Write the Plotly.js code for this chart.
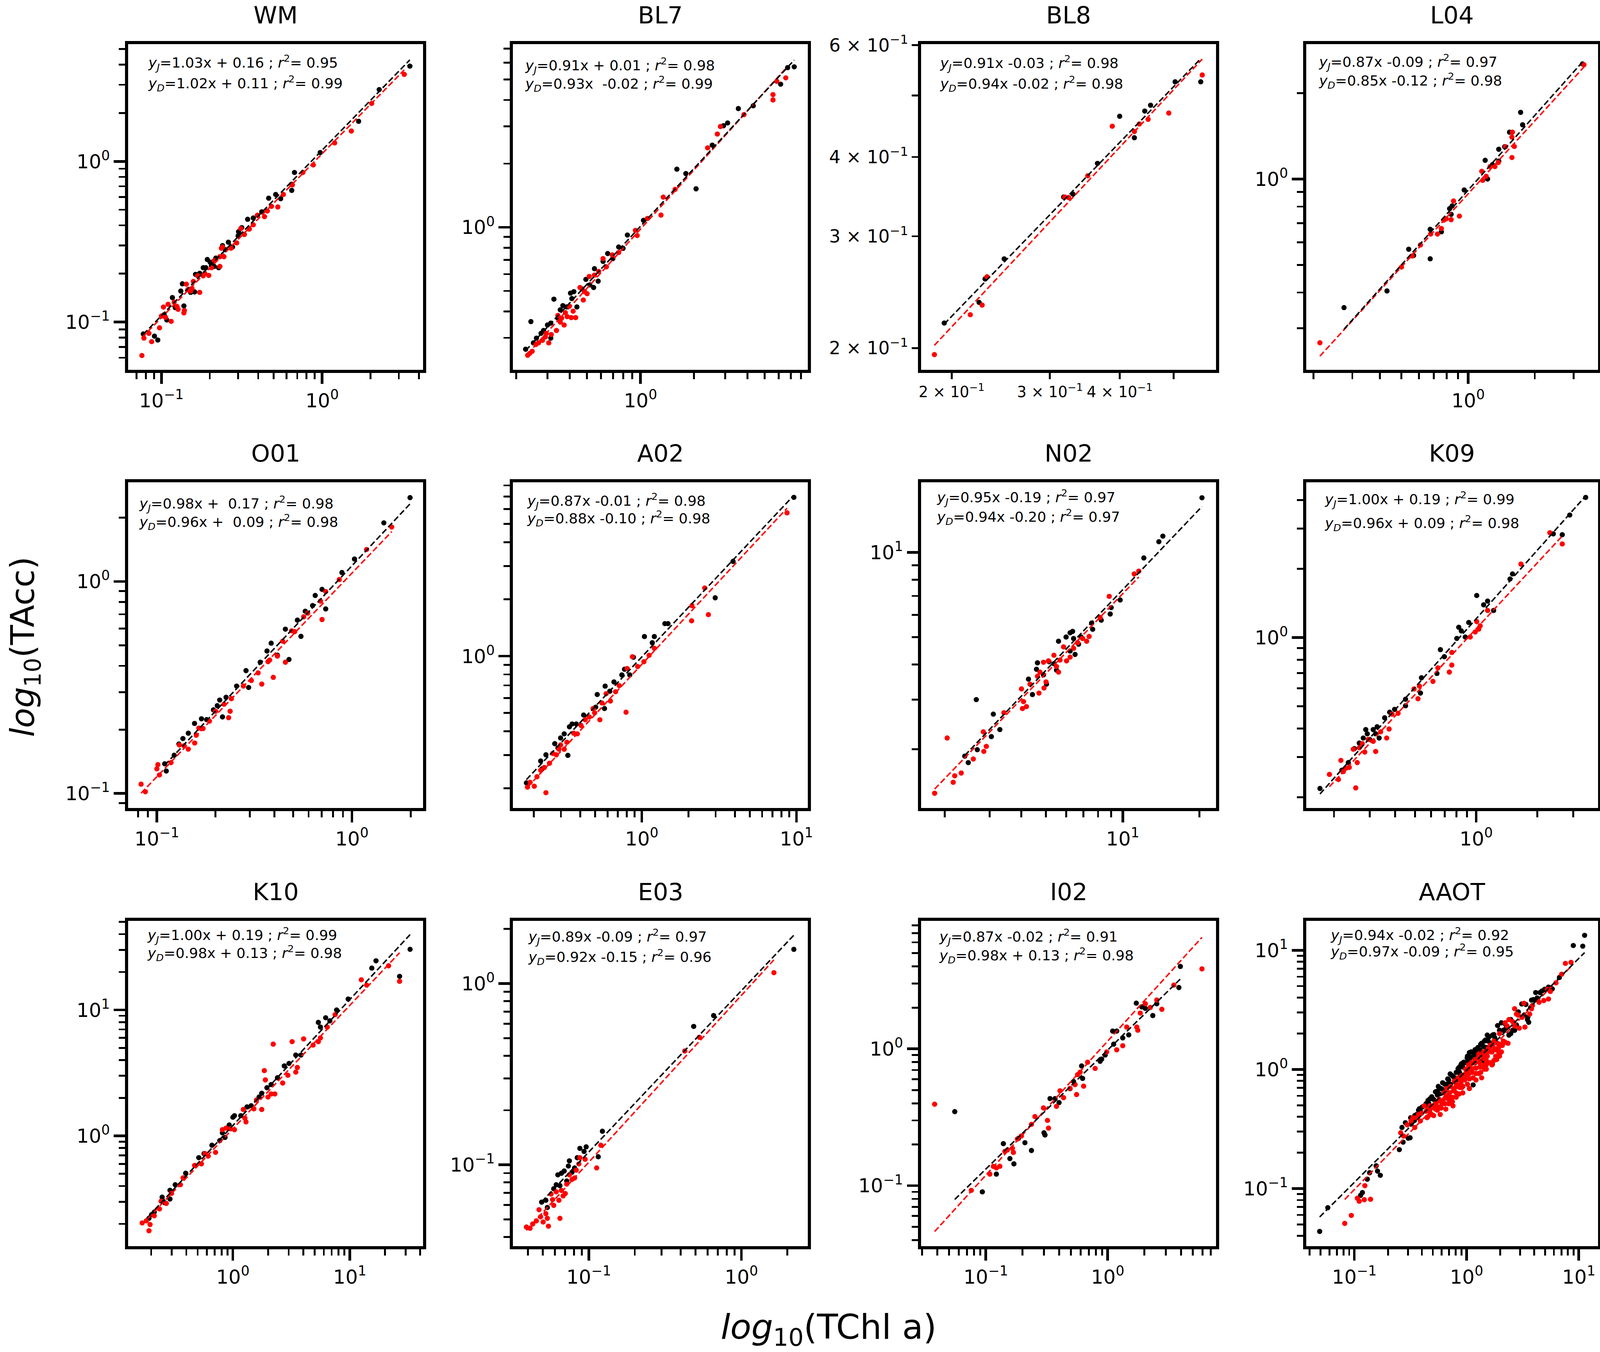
<!DOCTYPE html>
<html><head><meta charset="utf-8">
<script src="https://cdn.plot.ly/plotly-3.0.1.min.js"></script>
<style>html,body{margin:0;padding:0;background:#fff;overflow:hidden}</style>
</head><body><div id="chart"></div>
<script>
// ---------------- DATA ----------------
const panelNames = ['WM','BL7','BL8','L04','O01','A02','N02','K09','K10','E03','I02','AAOT'];

const WM_J_x = [0.0771,0.0905,0.0949,0.117,0.135,0.132,0.138,0.152,0.161,0.163,0.173,0.182,0.193,0.205,0.213,0.227,0.231,0.240,0.261,0.277,0.300,0.302,0.316,0.328,0.344,0.352,0.373,0.396,0.421,0.465,0.514,0.552,0.647,0.647,0.673,0.973,1.687,2.266,3.516,0.104,0.108,0.122,0.189,0.201,0.218,0.250];
const WM_J_y = [0.0843,0.0817,0.0773,0.142,0.173,0.156,0.126,0.153,0.154,0.198,0.201,0.218,0.245,0.227,0.222,0.218,0.255,0.299,0.314,0.293,0.344,0.365,0.387,0.351,0.436,0.379,0.444,0.462,0.485,0.590,0.622,0.586,0.660,0.720,0.853,1.135,1.775,2.798,3.915,0.111,0.103,0.123,0.218,0.236,0.250,0.282];
const WM_D_x = [0.0756,0.0778,0.0836,0.0869,0.0973,0.100,0.103,0.106,0.110,0.115,0.120,0.125,0.127,0.138,0.139,0.143,0.146,0.152,0.155,0.173,0.158,0.168,0.182,0.186,0.197,0.205,0.213,0.231,0.236,0.245,0.271,0.294,0.312,0.328,0.352,0.373,0.396,0.438,0.456,0.484,0.530,0.574,0.653,0.759,0.881,1.197,1.520,2.034,3.245,0.231,0.240];
const WM_D_y = [0.0619,0.0795,0.0851,0.0755,0.0920,0.109,0.124,0.107,0.129,0.101,0.133,0.125,0.120,0.114,0.118,0.172,0.159,0.156,0.162,0.153,0.179,0.194,0.194,0.201,0.195,0.218,0.241,0.222,0.288,0.255,0.288,0.311,0.382,0.351,0.379,0.403,0.462,0.453,0.491,0.525,0.520,0.622,0.714,0.853,0.950,1.303,1.545,2.294,3.477,0.255,0.293];

const BL7_J_x = [0.226,0.242,0.250,0.260,0.276,0.285,0.300,0.313,0.313,0.326,0.343,0.354,0.366,0.385,0.404,0.411,0.422,0.439,0.469,0.493,0.519,0.551,0.545,0.578,0.616,0.654,0.699,0.754,0.798,0.844,1.040,1.602,1.799,2.054,2.532,2.930,3.090,3.551,4.305,6.14,6.72,7.32];
const BL7_J_y = [0.265,0.358,0.284,0.299,0.315,0.325,0.345,0.352,0.299,0.457,0.372,0.407,0.426,0.420,0.488,0.460,0.496,0.420,0.511,0.567,0.534,0.637,0.519,0.556,0.690,0.751,0.711,0.807,0.795,0.919,1.078,1.883,1.795,1.520,2.447,3.021,3.114,3.643,3.755,4.75,5.69,5.74];
const BL7_D_x = [0.232,0.238,0.246,0.258,0.267,0.281,0.292,0.295,0.305,0.315,0.337,0.343,0.354,0.360,0.372,0.378,0.387,0.398,0.408,0.418,0.432,0.457,0.477,0.485,0.501,0.515,0.551,0.582,0.616,0.643,0.694,0.754,0.936,0.958,1.094,1.304,1.343,1.565,2.385,2.705,2.816,3.82,5.56,5.56,5.84,6.56];
const BL7_D_y = [0.248,0.253,0.259,0.279,0.284,0.292,0.303,0.315,0.284,0.311,0.325,0.383,0.356,0.372,0.345,0.395,0.378,0.423,0.374,0.401,0.374,0.519,0.453,0.496,0.485,0.585,0.594,0.618,0.711,0.650,0.740,0.760,0.967,0.914,1.101,1.142,1.389,1.511,2.375,2.761,2.995,3.41,4.24,4.00,4.90,5.09];

const BL8_J_x = [0.194,0.224,0.2296,0.2484,0.3175,0.3299,0.365,0.400,0.425,0.4436,0.4544,0.5028,0.5588];
const BL8_J_y = [0.219,0.236,0.257,0.2764,0.3459,0.3495,0.3908,0.4636,0.4289,0.4725,0.4826,0.5254,0.5254];
const BL8_D_x = [0.1863,0.2160,0.2268,0.2314,0.3189,0.3239,0.3507,0.388,0.425,0.4338,0.4498,0.4898,0.5623];
const BL8_D_y = [0.1953,0.2257,0.2337,0.259,0.3459,0.3453,0.3736,0.4472,0.4387,0.4508,0.4585,0.4691,0.5385];

const L04_J_x = [0.275,0.430,0.539,0.567,0.674,0.674,0.757,0.825,0.838,0.846,0.960,1.194,1.224,1.288,1.375,1.375,1.538,1.726,1.762,1.462,3.285];
const L04_J_y = [0.354,0.405,0.567,0.539,0.525,0.666,0.653,0.787,0.752,0.804,0.915,1.163,1.000,1.122,1.271,1.155,1.459,1.712,1.549,1.297,2.532];
const L04_D_x = [0.214,0.500,0.559,0.609,0.677,0.727,0.757,0.776,0.796,0.838,0.859,0.913,1.152,1.164,1.206,1.256,1.321,1.368,1.476,1.577,1.585,1.577,1.617,3.336];
const L04_D_y = [0.2665,0.491,0.537,0.587,0.641,0.641,0.670,0.717,0.725,0.720,0.837,0.741,1.064,0.989,1.022,1.105,1.105,1.142,1.297,1.402,1.459,1.189,1.30,2.515];

const O01_J_x = [0.1097,0.1117,0.1227,0.1297,0.136,0.145,0.156,0.1693,0.180,0.195,0.204,0.210,0.217,0.2264,0.2564,0.2865,0.2954,0.3388,0.367,0.3855,0.415,0.456,0.4757,0.5254,0.548,0.5765,0.6286,0.6486,0.703,0.734,0.889,1.031,1.458,1.987];
const O01_J_y = [0.138,0.1276,0.1514,0.171,0.1816,0.1924,0.214,0.225,0.223,0.248,0.2595,0.2758,0.2297,0.2843,0.321,0.3796,0.3162,0.416,0.470,0.5117,0.449,0.5957,0.4286,0.657,0.551,0.724,0.7695,0.859,0.918,0.742,1.102,1.276,1.890,2.486];
const O01_D_x = [0.0830,0.0873,0.100,0.1012,0.1031,0.1182,0.1305,0.138,0.1449,0.1563,0.1592,0.1641,0.1725,0.186,0.200,0.2208,0.2333,0.2375,0.241,0.2777,0.305,0.3304,0.345,0.3715,0.3786,0.3954,0.415,0.4416,0.456,0.491,0.509,0.5662,0.594,0.703,0.690,0.734,0.862,1.189,1.600];
const O01_D_y = [0.1106,0.1019,0.1307,0.1368,0.1223,0.1398,0.1694,0.1678,0.1618,0.173,0.1884,0.2033,0.2025,0.2195,0.2442,0.2635,0.2277,0.2442,0.280,0.3212,0.341,0.3707,0.328,0.4186,0.426,0.353,0.4446,0.5227,0.416,0.585,0.580,0.681,0.709,0.661,0.808,0.896,1.021,1.415,1.806];

const A02_J_x = [0.1795,0.222,0.227,0.240,0.2737,0.287,0.2985,0.315,0.3326,0.3406,0.354,0.377,0.4207,0.5035,0.5152,0.5794,0.621,0.661,0.743,0.773,0.836,0.883,1.040,1.169,1.205,1.410,1.477,2.983,3.89,9.62,0.574];
const A02_J_y = [0.2135,0.2786,0.2535,0.3006,0.3443,0.327,0.369,0.388,0.2985,0.4227,0.4375,0.4375,0.488,0.537,0.6266,0.694,0.652,0.730,0.7955,0.852,0.7955,0.986,1.270,1.178,1.270,1.486,1.486,2.035,3.173,6.92,0.528];
const A02_D_x = [0.1824,0.1897,0.2018,0.210,0.222,0.240,0.2344,0.253,0.2654,0.280,0.291,0.2985,0.315,0.3275,0.3625,0.383,0.4045,0.4305,0.458,0.484,0.4955,0.5357,0.5525,0.588,0.6266,0.677,0.7145,0.791,0.804,0.869,0.940,1.032,1.115,1.205,2.099,2.11,2.552,2.695,8.69];
const A02_D_y = [0.2028,0.215,0.205,0.230,0.249,0.1894,0.2576,0.2711,0.3055,0.3006,0.3217,0.3388,0.3217,0.350,0.391,0.388,0.430,0.4605,0.4766,0.528,0.5016,0.4605,0.565,0.6326,0.579,0.648,0.6984,0.505,0.860,0.993,0.881,0.934,1.010,1.100,1.538,1.849,2.294,1.658,5.73];

const N02_J_x = [2.399,2.476,2.662,2.686,3.05,3.105,3.294,4.266,4.422,4.628,4.586,4.887,5.022,5.136,5.37,5.495,5.597,5.993,6.214,6.357,6.413,6.50,6.214,6.71,6.866,7.55,7.62,8.232,8.93,9.01,9.77,12.1,13.86,14.37,20.46];
const N02_J_y = [1.888,1.791,2.999,1.991,2.216,2.663,2.347,3.546,3.126,4.052,3.843,3.671,3.403,4.089,4.023,3.817,4.834,5.004,5.179,5.239,4.943,4.340,4.461,4.72,5.004,5.61,5.33,5.742,6.04,6.365,6.773,9.55,10.91,11.42,15.63];
const N02_D_x = [1.827,2.046,2.161,2.190,2.323,2.591,2.837,2.849,2.915,3.416,4.004,4.04,4.08,4.188,4.325,4.628,4.69,4.732,4.887,4.909,4.999,5.112,5.37,5.495,5.597,5.675,5.857,6.018,6.214,6.413,6.65,6.96,7.216,7.38,8.15,8.85,11.09,11.56];
const N02_D_y = [1.394,2.191,1.525,1.608,1.645,1.845,2.304,1.963,2.046,2.694,3.273,2.787,2.95,2.832,3.403,3.629,3.162,3.756,4.07,3.297,3.466,4.117,4.31,3.932,3.756,4.145,4.616,4.117,4.243,4.563,4.779,4.943,4.834,5.026,5.87,6.977,8.38,8.577];

const K09_J_x = [0.1707,0.2188,0.2353,0.2518,0.2663,0.2786,0.2866,0.2915,0.2997,0.3119,0.3206,0.326,0.3335,0.3549,0.3755,0.3972,0.4496,0.4496,0.5323,0.5383,0.6412,0.6669,0.6975,0.8028,0.821,0.8448,0.8836,0.919,1.006,1.088,1.138,1.218,1.466,1.508,2.393,2.648,2.883,3.451];
const K09_J_y = [0.2183,0.2624,0.2833,0.3263,0.3451,0.363,0.3954,0.379,0.358,0.3954,0.379,0.4067,0.363,0.4453,0.471,0.4847,0.5028,0.537,0.5714,0.667,0.6966,0.8855,0.8249,0.9915,1.11,1.070,1.006,1.165,1.529,1.392,1.445,1.315,1.806,1.901,2.848,2.824,3.443,4.113];
const K09_D_x = [0.190,0.2103,0.2163,0.2224,0.2288,0.2379,0.2489,0.2559,0.2603,0.2663,0.2755,0.2834,0.2946,0.3119,0.3206,0.3392,0.3631,0.3733,0.3862,0.4131,0.495,0.5176,0.5263,0.6129,0.6483,0.738,0.7586,0.7586,0.9347,0.9886,1.006,1.029,1.046,1.138,1.660,2.301,2.648];
const K09_D_y = [0.2515,0.2389,0.2897,0.2587,0.2677,0.270,0.3244,0.2196,0.2833,0.329,0.3432,0.3152,0.358,0.3511,0.317,0.3866,0.363,0.3977,0.462,0.466,0.5958,0.5398,0.6129,0.643,0.7367,0.706,0.7578,0.861,1.006,1.058,1.175,1.089,1.126,1.315,2.099,2.881,2.572];

const K10_J_x = [0.1917,0.2018,0.2126,0.2483,0.2612,0.2897,0.2897,0.3212,0.3948,0.511,0.5668,0.662,0.7727,0.8135,0.8565,0.930,1.0,1.032,1.168,1.321,1.435,1.676,1.765,1.956,2.125,2.405,2.752,3.02,3.452,3.828,5.383,5.61,6.22,6.755,7.72,9.69,15.43,16.76,26.67,32.8];
const K10_J_y = [0.2217,0.2373,0.2483,0.3263,0.2946,0.3152,0.370,0.4096,0.5055,0.6717,0.7233,0.8433,0.918,1.058,0.972,1.22,1.406,1.447,1.447,1.697,1.736,2.035,2.179,2.414,2.556,2.895,3.594,3.76,4.385,4.385,7.963,7.31,8.67,8.196,10.0,12.2,21.5,24.55,18.48,30.3];
const K10_D_x = [0.1676,0.182,0.1917,0.1957,0.2126,0.2357,0.2432,0.2695,0.2987,0.356,0.375,0.4707,0.5383,0.5785,0.6155,0.711,0.8135,0.8743,0.95,1.032,1.229,1.268,1.294,1.512,1.591,1.765,1.858,1.897,1.997,2.125,2.285,2.214,2.667,2.955,3.212,3.452,3.561,4.03,4.855,5.383,5.61,6.415,7.49,12.55,13.92,21.47,26.67];
const K10_D_y = [0.2035,0.2118,0.1766,0.1978,0.232,0.263,0.303,0.291,0.3494,0.4096,0.4642,0.5825,0.5995,0.7233,0.691,0.7396,1.12,1.153,1.14,1.12,1.621,1.383,1.292,1.640,1.923,1.621,3.30,2.783,2.035,2.154,2.154,5.35,2.63,3.03,5.6,3.208,3.493,5.89,5.26,5.6,6.0,7.31,9.18,17.36,15.76,22.42,16.87];

const E03_J_x = [0.0491,0.0523,0.0535,0.0589,0.0612,0.0627,0.0647,0.0662,0.069,0.0717,0.0735,0.0746,0.0776,0.0807,0.0840,0.0874,0.0931,0.0961,0.1153,0.1228,0.4867,0.6577,2.206];
const E03_J_y = [0.0623,0.0638,0.0582,0.0738,0.0777,0.0881,0.0768,0.0899,0.0925,0.0814,0.0985,0.1052,0.0910,0.0962,0.1095,0.1233,0.1186,0.1257,0.1109,0.1532,0.580,0.6657,1.544];
const E03_D_x = [0.0390,0.0412,0.0429,0.0453,0.0472,0.0483,0.0502,0.0523,0.0535,0.0544,0.0566,0.0579,0.0589,0.0612,0.0637,0.0647,0.0662,0.0679,0.0701,0.0717,0.0746,0.0776,0.0807,0.0827,0.0861,0.0874,0.0946,0.1126,0.1199,0.4256,0.531,1.633];
const E03_D_y = [0.0454,0.0447,0.0472,0.0491,0.0566,0.0517,0.0484,0.0538,0.0507,0.0459,0.0690,0.0643,0.0598,0.0710,0.0638,0.0507,0.0723,0.0674,0.0695,0.0783,0.0881,0.0831,0.0847,0.0935,0.1012,0.1095,0.1074,0.0962,0.1283,0.4246,0.505,1.148];

const I02_J_x = [0.0556,0.0936,0.122,0.1393,0.1576,0.170,0.1852,0.2094,0.2368,0.3001,0.3059,0.3364,0.3698,0.399,0.491,0.5248,0.611,0.6226,0.8675,0.8925,0.9537,1.099,1.186,1.12,1.329,1.489,1.717,1.905,2.036,2.345,2.529,3.84,3.95];
const I02_J_y = [0.3475,0.0901,0.1214,0.2027,0.1577,0.1443,0.2216,0.206,0.1807,0.2434,0.2347,0.4329,0.4329,0.4045,0.5117,0.577,0.75,0.608,0.811,0.8414,0.9006,1.348,1.348,1.082,1.201,1.265,2.158,2.027,1.975,1.75,2.136,2.804,4.0];
const I02_D_x = [0.038,0.076,0.1079,0.1153,0.122,0.1303,0.1433,0.1503,0.1652,0.1684,0.1816,0.196,0.2368,0.253,0.2973,0.3207,0.3269,0.3802,0.4064,0.4345,0.491,0.540,0.5555,0.5666,0.594,0.6346,0.6844,0.789,0.981,1.186,1.329,1.434,1.733,1.766,1.851,2.036,2.237,2.529,2.783,3.493,5.94];
const I02_D_y = [0.394,0.0924,0.1214,0.1383,0.1348,0.1385,0.1778,0.1825,0.1873,0.175,0.2193,0.231,0.2805,0.3195,0.370,0.300,0.2633,0.3798,0.4933,0.4397,0.5144,0.5478,0.4634,0.6477,0.675,0.5337,0.7985,0.719,0.949,0.984,1.054,1.443,1.443,1.368,1.826,2.136,2.006,2.274,1.944,2.924,3.838];

const AAOT_J_x = [0.0491,0.058,0.1136,0.118,0.1305,0.1368,0.1565,0.1609,0.1704,0.2518,0.272,0.2658,0.285,0.302,0.3138,0.3175,0.3429,0.3806,0.4358,0.471,0.5284,0.5935,0.612,0.6797,0.7145,0.763,0.8404,0.901,1.012,1.06,1.145,1.336,1.472,1.53,1.704,1.698,1.891,2.044,2.385,2.578,3.102,3.579,3.483,3.94,4.13,4.51,4.97,5.8,6.72,8.94,10.85,11.27,
  0.3733,0.4034,0.4529,0.4894,0.5495,0.5601,0.6412,0.6929,0.7339,0.8086,0.8568,0.8906,0.9437,1.019,1.102,1.19,1.261,1.362,1.443,1.590,1.785,2.124,2.25,2.479,2.784,3.25,3.72,4.258,4.69,5.37,0.981,1.102,1.213,1.389,1.5,1.652,0.7203,0.8086,0.8735,0.3199,0.3592,0.5495,0.6412,
  0.3456,0.388,0.4275,0.4618,0.5084,0.571,0.6169,0.6664,0.7778,0.8568,0.9256,1.06,1.167,1.31,1.416,1.56,1.751,1.966,2.208,2.479,2.893,3.377,3.793,1.06,1.19,1.389,1.685,2.68,3.51];
const AAOT_J_y = [0.0436,0.069,0.0875,0.0924,0.1197,0.1356,0.155,0.140,0.129,0.2119,0.245,0.3256,0.3568,0.2643,0.2666,0.3928,0.372,0.468,0.5152,0.565,0.648,0.690,0.772,0.832,0.916,0.868,1.013,1.115,1.247,1.385,0.7405,1.622,1.764,1.941,1.941,1.10,2.332,2.462,1.941,2.128,3.54,2.483,2.62,3.85,4.415,4.415,4.70,4.74,5.91,10.96,10.82,13.34,
  0.4546,0.4839,0.5483,0.5888,0.6561,0.7192,0.7499,0.815,0.8935,0.943,1.038,1.091,1.148,1.29,1.402,1.462,1.524,1.657,1.727,1.877,1.839,2.128,2.218,1.998,2.362,2.849,3.297,3.977,4.547,4.90,1.138,1.263,1.373,1.402,1.524,1.657,0.7499,0.815,0.924,0.3467,0.418,0.6087,0.6617,
  0.4096,0.4453,0.4941,0.5152,0.56,0.6216,0.6756,0.7499,0.85,0.963,1.047,1.187,1.317,1.462,1.556,1.727,1.958,2.128,2.411,2.62,3.033,3.51,3.815,1.004,1.138,1.187,1.402,2.128,2.733];
const AAOT_D_x = [0.0821,0.0940,0.1064,0.1105,0.1227,0.1394,0.1241,0.2588,0.2742,0.2961,0.3456,0.3325,0.3733,0.388,0.4195,0.4443,0.471,0.5084,0.5495,0.5822,0.605,0.6412,0.6536,0.6929,0.7484,0.7571,0.778,0.8086,0.8568,0.8735,0.9256,0.962,1.0,1.019,1.06,1.08,1.123,1.167,1.213,1.261,1.31,1.336,1.389,1.443,1.5,1.53,1.621,1.685,1.751,1.82,1.855,1.929,1.966,2.044,2.208,2.34,2.208,2.385,2.68,2.784,2.68,2.95,3.312,3.25,3.65,3.867,4.875,5.37,5.266,7.6,8.53,
  0.471,0.5284,0.571,0.629,0.6664,0.7203,0.778,0.8404,0.908,0.981,1.039,1.102,1.19,1.285,1.416,1.56,1.685,1.82,1.966,1.891,2.124,0.4529,0.5284,0.5935,0.6929,0.8086,0.9256,1.06,1.213,1.362,1.5,1.685,1.966,
  0.320,0.359,0.3958,0.4358,0.4799,0.5186,0.5601,0.6050,0.6536,0.7063,0.7631,0.8244,0.8906,0.962,1.039,1.123,1.213,1.31,1.416,1.53,1.652,1.785,1.929,2.084,0.7484,0.8086,0.908,1.019,1.145,1.285,1.443,1.621,1.82,2.044,1.751,1.5,1.336,1.102,0.981,0.8735,0.6929,0.6412,0.5495,0.4894,0.4529,3.126,3.793,4.426,2.578,2.893,2.295,5.58,6.266,7.036];
const AAOT_D_y = [0.0509,0.0594,0.0829,0.0782,0.0805,0.0812,0.1056,0.2934,0.2756,0.3423,0.3256,0.3928,0.418,0.369,0.4941,0.3928,0.4359,0.4096,0.537,0.418,0.5152,0.5718,0.4642,0.6087,0.537,0.4941,0.690,0.7499,0.6216,0.7045,0.7192,0.815,0.905,0.983,0.832,1.091,1.004,1.138,0.924,1.237,1.047,0.943,1.29,1.091,1.187,1.402,1.589,1.402,1.727,1.29,1.211,1.402,1.998,1.622,1.691,1.657,2.462,2.62,3.228,2.91,2.313,2.218,2.265,3.584,2.91,3.437,3.784,3.896,4.70,7.756,7.915,
  0.4941,0.5152,0.56,0.6348,0.690,0.7192,0.7984,0.85,0.886,1.004,1.091,1.138,1.211,1.345,1.402,1.492,1.589,1.462,1.345,1.657,1.727,0.4642,0.4642,0.474,0.5152,0.5839,0.6348,0.690,0.815,0.85,1.004,1.091,1.29,
  0.369,0.393,0.4270,0.4453,0.474,0.4941,0.4839,0.5373,0.5839,0.6348,0.6617,0.7192,0.7657,0.85,0.905,0.943,1.025,1.138,1.237,1.29,1.402,1.492,1.524,1.589,0.5839,0.6348,0.7045,0.7499,0.85,0.924,1.004,1.138,1.237,1.402,1.187,1.091,1.047,1.004,0.924,0.815,0.56,0.5152,0.4546,0.418,0.401,2.733,3.228,3.66,2.514,2.849,2.313,4.508,5.326,6.295];

// regression coefficients (natural-log fit: ln y = a ln x + b)
const slopeJ = [1.03,0.91,0.91,0.87,0.98,0.87,0.95,1.00,1.00,0.89,0.87,0.94];
const interJ = [0.16,0.01,-0.03,-0.09,0.17,-0.01,-0.19,0.19,0.19,-0.09,-0.02,-0.02];
const slopeD = [1.02,0.93,0.94,0.85,0.96,0.88,0.94,0.96,0.98,0.92,0.98,0.97];
const interD = [0.11,-0.02,-0.02,-0.12,0.09,-0.10,-0.20,0.09,0.13,-0.15,0.13,-0.09];
const fitTextJ = ['1.03x + 0.16','0.91x + 0.01','0.91x -0.03','0.87x -0.09','0.98x +  0.17','0.87x -0.01','0.95x -0.19','1.00x + 0.19','1.00x + 0.19','0.89x -0.09','0.87x -0.02','0.94x -0.02'];
const fitTextD = ['1.02x + 0.11','0.93x  -0.02','0.94x -0.02','0.85x -0.12','0.96x +  0.09','0.88x -0.10','0.94x -0.20','0.96x + 0.09','0.98x + 0.13','0.92x -0.15','0.98x + 0.13','0.97x -0.09'];
const r2J = ['0.95','0.98','0.98','0.97','0.98','0.98','0.97','0.99','0.99','0.97','0.91','0.92'];
const r2D = ['0.99','0.99','0.98','0.98','0.98','0.98','0.97','0.98','0.98','0.96','0.98','0.95'];

// tick labels
const L_m1 = '10<sup>\u22121</sup>', L_0 = '10<sup>0</sup>', L_1 = '10<sup>1</sup>';
const xTickVals = [[0.1,1],[1],[0.2,0.3,0.4],[1],[0.1,1],[1,10],[10],[1],[1,10],[0.1,1],[0.1,1],[0.1,1,10]];
const xTickText = [[L_m1,L_0],[L_0],['2 \u00d7 10<sup>\u22121</sup>','3 \u00d7 10<sup>\u22121</sup>','4 \u00d7 10<sup>\u22121</sup>'],[L_0],[L_m1,L_0],[L_0,L_1],[L_1],[L_0],[L_0,L_1],[L_m1,L_0],[L_m1,L_0],[L_m1,L_0,L_1]];
const yTickVals = [[0.1,1],[1],[0.2,0.3,0.4,0.6],[1],[0.1,1],[1],[10],[1],[1,10],[0.1,1],[0.1,1],[0.1,1,10]];
const yTickText = [[L_m1,L_0],[L_0],['2 \u00d7 10<sup>\u22121</sup>','3 \u00d7 10<sup>\u22121</sup>','4 \u00d7 10<sup>\u22121</sup>','6 \u00d7 10<sup>\u22121</sup>'],[L_0],[L_m1,L_0],[L_0],[L_1],[L_0],[L_0,L_1],[L_m1,L_0],[L_m1,L_0],[L_m1,L_0,L_1]];

// ---------------- LAYOUT CONFIG ----------------
const series = [
  [WM_J_x,WM_J_y,WM_D_x,WM_D_y],[BL7_J_x,BL7_J_y,BL7_D_x,BL7_D_y],[BL8_J_x,BL8_J_y,BL8_D_x,BL8_D_y],[L04_J_x,L04_J_y,L04_D_x,L04_D_y],
  [O01_J_x,O01_J_y,O01_D_x,O01_D_y],[A02_J_x,A02_J_y,A02_D_x,A02_D_y],[N02_J_x,N02_J_y,N02_D_x,N02_D_y],[K09_J_x,K09_J_y,K09_D_x,K09_D_y],
  [K10_J_x,K10_J_y,K10_D_x,K10_D_y],[E03_J_x,E03_J_y,E03_D_x,E03_D_y],[I02_J_x,I02_J_y,I02_D_x,I02_D_y],[AAOT_J_x,AAOT_J_y,AAOT_D_x,AAOT_D_y]
];
const xRanges = [[-1.208,0.629],[-0.718,0.942],[-0.7536,-0.2254],[-0.732,0.587],[-1.148,0.3656],[-0.834,1.0746],[0.2087,1.366],[-0.836,0.599],[-0.897,1.628],[-1.498,0.4364],[-1.531,0.889],[-1.43,1.172]];
const yRanges = [[-1.297,0.730],[-0.674,0.8665],[-0.7332,-0.2201],[-0.669,0.473],[-1.069,0.468],[-0.804,0.920],[0.0916,1.249],[-0.747,0.6806],[-0.8765,1.7086],[-1.449,0.3465],[-1.443,0.9364],[-1.485,1.248]];
const colDom = [[0.0800,0.2645],[0.3205,0.5050],[0.5757,0.7600],[0.8163,0.9988]];
const rowDom = [[0.7265,0.9674],[0.4023,0.6433],[0.0782,0.3190]];
const textPos = [[55,48,101],[33,55,102],[52,49,102],[34,46,94],[30,55,102],[39,48,93],[43,39,89],[51,44,105],[53,37,83],[42,41,93],[49,41,89],[68,37,79]];

// fill the window, scaling sizes from the 4606x3462 design
const W = window.innerWidth || 4606, H = window.innerHeight || 3462;
const kx = W / 4606, ky = H / 3462, k = (kx + ky) / 2 > Math.max(kx, ky) ? Math.max(kx, ky) : (0.4 * kx + 0.6 * ky);
document.getElementById('chart').style.width = W + 'px';
document.getElementById('chart').style.height = H + 'px';
const FONT = 'DejaVu Sans';

function minorVals(range, exclude){
  const out = [];
  for (let e = Math.floor(range[0]) - 1; e <= Math.ceil(range[1]); e++){
    for (let m = 1; m <= 9; m++){
      const v = m * Math.pow(10, e), lv = Math.log10(v);
      if (lv >= range[0] - 1e-9 && lv <= range[1] + 1e-9 && !exclude.some(t => Math.abs(t - v) / v < 1e-6)) out.push(v);
    }
  }
  return out;
}
function fitLine(xs, a, b){
  const lo = Math.min(...xs), hi = Math.max(...xs);
  return {x:[lo, hi], y:[Math.exp(b) * Math.pow(lo, a), Math.exp(b) * Math.pow(hi, a)]};
}

const traces = [];
const layout = {
  width: W, height: H, margin:{l:0,r:0,t:0,b:0,pad:0}, autosize:false,
  paper_bgcolor:'#ffffff', plot_bgcolor:'#ffffff', showlegend:false,
  font:{family:FONT, color:'#000000'}, annotations:[]
};
const dashPat = Math.round(16 * k) + 'px,' + Math.round(7 * k) + 'px';

panelNames.forEach((name, i) => {
  const s = i === 0 ? '' : String(i + 1);
  const r = Math.floor(i / 4), c = i % 4;
  const [jx, jy, dx, dy] = series[i];
  const xa = 'x' + s, ya = 'y' + s;
  traces.push({type:'scatter', mode:'markers', x:jx, y:jy, xaxis:xa, yaxis:ya, marker:{color:'#000000', size:14 * k, line:{width:0}}, hoverinfo:'skip'});
  traces.push({type:'scatter', mode:'markers', x:dx, y:dy, xaxis:xa, yaxis:ya, marker:{color:'#ff0000', size:14 * k, line:{width:0}}, hoverinfo:'skip'});
  const lD = fitLine(dx, slopeD[i], interD[i]);
  const lJ = fitLine(jx, slopeJ[i], interJ[i]);
  traces.push({type:'scatter', mode:'lines', x:lD.x, y:lD.y, xaxis:xa, yaxis:ya, line:{color:'#ff0000', width:4 * k, dash:dashPat}, hoverinfo:'skip'});
  traces.push({type:'scatter', mode:'lines', x:lJ.x, y:lJ.y, xaxis:xa, yaxis:ya, line:{color:'#000000', width:4 * k, dash:dashPat}, hoverinfo:'skip'});

  const allMinor = (name === 'BL8');
  const axCommon = (range, tv, tt, standoff, fsize) => ({
    type:'log', range:range, showgrid:false, zeroline:false, showline:true, mirror:true,
    linecolor:'#000000', linewidth:8 * k, ticks:'outside',
    ticklen:(allMinor ? 17 : 30) * k, tickwidth:(allMinor ? 5 : 7) * k, tickcolor:'#000000',
    tickmode:'array', tickvals:tv, ticktext:tt, ticklabelstandoff:standoff * k, tickangle:0,
    tickfont:{family:FONT, size:fsize * k, color:'#000000'},
    minor:{tickmode:'array', tickvals:minorVals(range, tv), ticks:'outside', ticklen:17 * k, tickwidth:5 * k, tickcolor:'#000000', showgrid:false},
    fixedrange:true
  });
  layout['xaxis' + s] = Object.assign(axCommon(xRanges[i], xTickVals[i], xTickText[i], 16, allMinor ? 40 : 52), {domain:colDom[c], anchor:ya});
  layout['yaxis' + s] = Object.assign(axCommon(yRanges[i], yTickVals[i], yTickText[i], 30, allMinor ? 48 : 52), {domain:rowDom[r], anchor:xa});

  const boxW = (colDom[c][1] - colDom[c][0]) * 4606, boxH = (rowDom[r][1] - rowDom[r][0]) * 3462;
  layout.annotations.push({xref:xa + ' domain', yref:ya + ' domain', x:0.5, y:1 + 74 / boxH, text:name, showarrow:false,
    xanchor:'center', yanchor:'middle', font:{family:FONT, size:64 * k, color:'#000000'}});
  const tp = textPos[i];
  layout.annotations.push({xref:xa + ' domain', yref:ya + ' domain', x:tp[0] / boxW, y:1 - tp[1] / boxH, showarrow:false, xanchor:'left', yanchor:'middle', align:'left',
    text:'<i>y</i><sub><i>J</i></sub>=' + fitTextJ[i] + ' ; <i>r</i><sup>2</sup>= ' + r2J[i], font:{family:FONT, size:38 * k, color:'#000000'}});
  layout.annotations.push({xref:xa + ' domain', yref:ya + ' domain', x:tp[0] / boxW, y:1 - tp[2] / boxH, showarrow:false, xanchor:'left', yanchor:'middle', align:'left',
    text:'<i>y</i><sub><i>D</i></sub>=' + fitTextD[i] + ' ; <i>r</i><sup>2</sup>= ' + r2D[i], font:{family:FONT, size:38 * k, color:'#000000'}});
});

layout.annotations.push({xref:'paper', yref:'paper', x:0.518, y:0.017, xanchor:'center', yanchor:'middle', showarrow:false,
  text:'<i>log</i><sub>10</sub>(TChl a)', font:{family:FONT, size:92 * k, color:'#000000'}});
layout.annotations.push({xref:'paper', yref:'paper', x:0.0155, y:0.5217, xanchor:'center', yanchor:'middle', showarrow:false, textangle:-90,
  text:'<i>log</i><sub>10</sub>(TAcc)', font:{family:FONT, size:88 * k, color:'#000000'}});

Plotly.newPlot('chart', traces, layout, {staticPlot:true, displayModeBar:false});
</script></body></html>
